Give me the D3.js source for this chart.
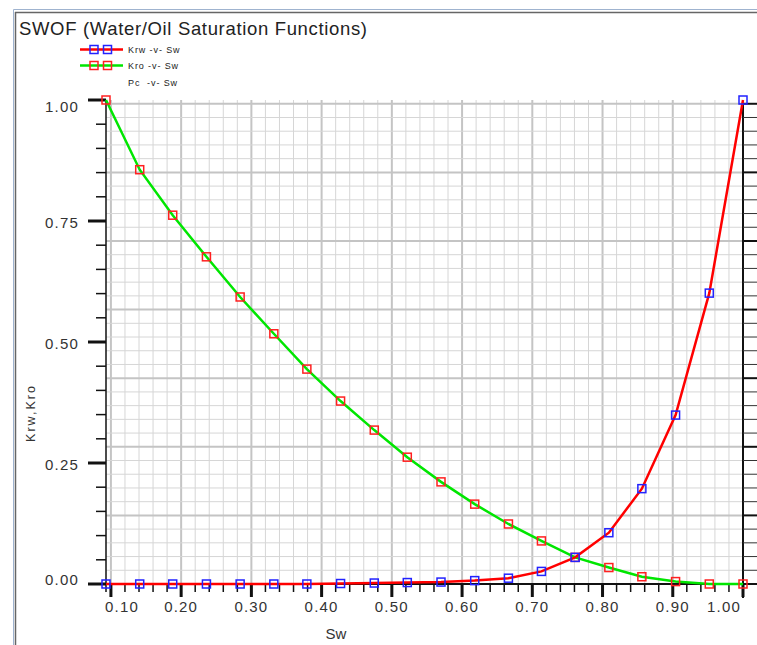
<!DOCTYPE html>
<html>
<head>
<meta charset="utf-8">
<script src="https://cdn.jsdelivr.net/npm/d3@7"></script>
<style>
  html, body { margin: 0; padding: 0; background: #fff; }
  svg { display: block; }
  text { font-family: "Liberation Sans", Arial, sans-serif; fill: #333; }
</style>
</head>
<body>
<svg id="chart" width="757" height="645"></svg>
<script>
// ---- data ----
const sw  = [0.093, 0.141, 0.188, 0.236, 0.284, 0.332, 0.379, 0.427, 0.475, 0.522,
             0.570, 0.618, 0.666, 0.713, 0.761, 0.809, 0.856, 0.904, 0.952, 1.000];
const krw = [0.000, 0.000, 0.000, 0.000, 0.000, 0.000, 0.000, 0.001, 0.002, 0.003,
             0.004, 0.007, 0.012, 0.026, 0.055, 0.106, 0.197, 0.349, 0.601, 1.000];
const kro = [1.000, 0.856, 0.762, 0.676, 0.593, 0.517, 0.444, 0.378, 0.318, 0.262,
             0.211, 0.165, 0.124, 0.089, 0.055, 0.034, 0.015, 0.005, 0.000, 0.000];
const xTickValues = [0.1, 0.2, 0.3, 0.4, 0.5, 0.6, 0.7, 0.8, 0.9, 1.0];
const yTickValues = [0.00, 0.25, 0.50, 0.75, 1.00];
const titleText = "SWOF (Water/Oil Saturation Functions)";
const xTitle = "Sw";
const yTitle = "Krw,Kro";
const legendItems = [
  { label: "Krw -v- Sw", line: "#ff0000", marker: "#2222ff" },
  { label: "Kro -v- Sw", line: "#00e600", marker: "#ff2020" },
  { label: "Pc  -v- Sw", line: null, marker: null }
];

// ---- layout ----
const L = 106, R = 743, T = 100, B = 584;
const svg = d3.select("#chart");

const x = d3.scaleLinear().domain([0.093, 1.0]).range([L, R]);
const y = d3.scaleLinear().domain([0, 1]).range([B, T]);
// secondary (Pc) axis: drives the horizontal grid and right-side ticks
const y2 = d3.scaleLinear().domain([0, 7.055]).range([B, T]);

// frame
svg.append("line").attr("x1", 13.5).attr("x2", 13.5).attr("y1", 9.5).attr("y2", 645).attr("stroke", "#9fb3cf").attr("stroke-width", 1);
svg.append("line").attr("x1", 13.5).attr("x2", 757).attr("y1", 9.5).attr("y2", 9.5).attr("stroke", "#9fb3cf").attr("stroke-width", 1);
svg.append("line").attr("x1", 15.5).attr("x2", 15.5).attr("y1", 12).attr("y2", 645).attr("stroke", "#666").attr("stroke-width", 1.5);
svg.append("line").attr("x1", 15).attr("x2", 757).attr("y1", 12.5).attr("y2", 12.5).attr("stroke", "#666").attr("stroke-width", 1.5);

// title
svg.append("text").attr("x", 19).attr("y", 35)
  .attr("font-size", 18.5).attr("textLength", 348).attr("lengthAdjust", "spacing")
  .style("fill", "#222")
  .text(titleText);

// ---- grid ----
const grid = svg.append("g");
const xMinor = d3.range(0.10, 1.0001, 0.02).map(v => +v.toFixed(2));
xMinor.forEach(v => {
  const major = Math.abs(v * 10 - Math.round(v * 10)) < 1e-6;
  grid.append("line")
    .attr("x1", x(v)).attr("x2", x(v)).attr("y1", T).attr("y2", B)
    .attr("stroke", major ? "#c4c4c4" : "#d6d6d6").attr("stroke-width", major ? 2 : 1);
});
const y2Minor = d3.range(0, 7.0001, 0.2).map(v => +v.toFixed(1));
y2Minor.forEach(v => {
  const major = Math.abs(v - Math.round(v)) < 1e-6;
  grid.append("line")
    .attr("x1", L).attr("x2", R).attr("y1", y2(v)).attr("y2", y2(v))
    .attr("stroke", major ? "#c4c4c4" : "#d6d6d6").attr("stroke-width", major ? 2 : 1);
});

// ---- axes ----
const axisG = svg.append("g");
axisG.append("line").attr("x1", L).attr("x2", L).attr("y1", T).attr("y2", 592).attr("stroke", "#111").attr("stroke-width", 1.5);
axisG.append("line").attr("x1", R).attr("x2", R).attr("y1", y2(7)).attr("y2", 598).attr("stroke", "#111").attr("stroke-width", 2);
axisG.append("line").attr("x1", 88).attr("x2", R).attr("y1", B).attr("y2", B).attr("stroke", "#111").attr("stroke-width", 2);

// y ticks: major every 0.25, minor every 0.05
d3.range(0, 1.0001, 0.05).forEach(v => {
  const major = Math.abs(v * 4 - Math.round(v * 4)) < 1e-6;
  axisG.append("line")
    .attr("x1", major ? 88 : 96).attr("x2", L).attr("y1", y(v)).attr("y2", y(v))
    .attr("stroke", "#111").attr("stroke-width", major ? 3 : 1.5);
});
yTickValues.forEach(v => {
  let by = y(v) + 6.5;
  by = Math.max(111.5, Math.min(585, by));
  axisG.append("text").attr("x", 79).attr("y", by)
    .attr("text-anchor", "end").attr("font-size", 15).attr("letter-spacing", 1.2)
    .text(d3.format(".2f")(v));
});

// x ticks: major every 0.1, minor every 0.02
xMinor.forEach(v => {
  const major = Math.abs(v * 10 - Math.round(v * 10)) < 1e-6;
  axisG.append("line")
    .attr("x1", x(v)).attr("x2", x(v)).attr("y1", B).attr("y2", major ? 597 : 592)
    .attr("stroke", "#111").attr("stroke-width", major ? 3 : 1.5);
});
xTickValues.forEach(v => {
  const t = axisG.append("text").attr("y", 612)
    .attr("font-size", 15).attr("letter-spacing", 1.2)
    .text(d3.format(".2f")(v));
  const w = t.node().getComputedTextLength();
  let left = x(v) - w / 2;
  left = Math.max(105, Math.min(741 - w, left));
  t.attr("x", left);
});

// right (Pc) ticks
y2Minor.forEach(v => {
  const major = Math.abs(v - Math.round(v)) < 1e-6;
  axisG.append("line")
    .attr("x1", R).attr("x2", 757).attr("y1", y2(v)).attr("y2", y2(v))
    .attr("stroke", major ? "#111" : "#333").attr("stroke-width", major ? 2 : 1);
});

// axis titles
svg.append("text").attr("x", 336).attr("y", 639).attr("text-anchor", "middle")
  .attr("font-size", 15).text(xTitle);
svg.append("text").attr("transform", "translate(35,413) rotate(-90)")
  .attr("text-anchor", "middle").attr("font-size", 12.5).attr("letter-spacing", 2)
  .text(yTitle);

// ---- series ----
const line = d3.line().x(d => x(d[0])).y(d => y(d[1]));
const kroPts = sw.map((s, i) => [s, kro[i]]);
const krwPts = sw.map((s, i) => [s, krw[i]]);

svg.append("path").datum(kroPts).attr("d", line)
  .attr("fill", "none").attr("stroke", legendItems[1].line).attr("stroke-width", 2.5);
svg.append("path").datum(krwPts).attr("d", line)
  .attr("fill", "none").attr("stroke", legendItems[0].line).attr("stroke-width", 2.5);

const ms = 8;
svg.append("g").selectAll("rect").data(kroPts).join("rect")
  .attr("x", d => x(d[0]) - ms / 2).attr("y", d => y(d[1]) - ms / 2)
  .attr("width", ms).attr("height", ms)
  .attr("fill", "none").attr("stroke", legendItems[1].marker).attr("stroke-width", 1.5);
svg.append("g").selectAll("rect").data(krwPts).join("rect")
  .attr("x", d => x(d[0]) - ms / 2).attr("y", d => y(d[1]) - ms / 2)
  .attr("width", ms).attr("height", ms)
  .attr("fill", "none").attr("stroke", legendItems[0].marker).attr("stroke-width", 1.5);

// ---- legend ----
const legY = [49.5, 65.5, 82.5];
legendItems.forEach((it, i) => {
  const g = svg.append("g");
  if (it.line) {
    g.append("line").attr("x1", 80).attr("x2", 123).attr("y1", legY[i]).attr("y2", legY[i])
      .attr("stroke", it.line).attr("stroke-width", 2.5);
    [94, 107.5].forEach(cx => {
      g.append("rect").attr("x", cx - 4).attr("y", legY[i] - 4).attr("width", 8).attr("height", 8)
        .attr("fill", "none").attr("stroke", it.marker).attr("stroke-width", 1.5);
    });
  }
  g.append("text").attr("x", 128).attr("y", legY[i] + 3.5)
    .attr("font-size", 9).attr("letter-spacing", 0.9)
    .style("white-space", "pre").attr("xml:space", "preserve")
    .style("fill", "#222")
    .text(it.label);
});
</script>
</body>
</html>
